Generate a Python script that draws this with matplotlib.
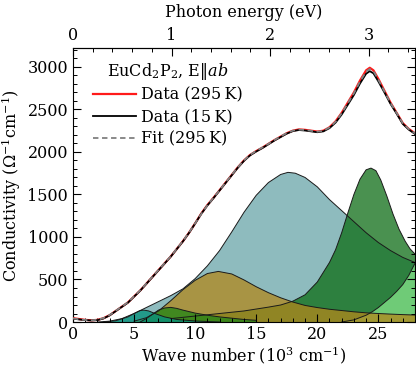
import matplotlib
matplotlib.use("Agg")
import matplotlib.pyplot as plt

plt.rcParams['font.family'] = ['DejaVu Serif']
plt.rcParams['mathtext.fontset'] = 'dejavuserif'

# wave number in 10^3 cm^-1
wn = [0, 0.5, 1, 1.5, 2, 2.5, 3, 3.5, 4, 4.5, 5, 5.5, 6, 6.5, 7, 7.5, 8, 8.5, 9, 9.5,
      10, 10.5, 11, 11.5, 12, 12.5, 13, 13.5, 14, 14.5, 15, 15.5, 16, 16.5, 17, 17.5,
      18, 18.5, 19, 19.5, 20, 20.5, 21, 21.5, 22, 22.5, 23, 23.5, 24, 24.3, 24.6, 25,
      25.5, 26, 26.5, 27, 27.5, 28]
sigma_295 = [45, 35, 25, 20, 25, 45, 80, 130, 180, 230, 300, 370, 450, 530, 610, 690,
             770, 860, 950, 1050, 1160, 1275, 1375, 1460, 1550, 1640, 1730, 1820, 1900,
             1965, 2010, 2050, 2095, 2140, 2180, 2220, 2250, 2265, 2260, 2250, 2240, 2250,
             2290, 2360, 2460, 2580, 2700, 2840, 2960, 2990, 2960, 2860, 2720, 2580, 2460,
             2340, 2270, 2220]
sigma_15 = [40, 30, 22, 18, 22, 42, 78, 128, 178, 228, 298, 368, 448, 528, 608, 688,
            768, 858, 948, 1048, 1158, 1272, 1370, 1456, 1546, 1636, 1726, 1815, 1895,
            1960, 2005, 2045, 2090, 2135, 2175, 2215, 2245, 2258, 2252, 2242, 2232, 2242,
            2280, 2345, 2440, 2555, 2670, 2805, 2920, 2950, 2925, 2830, 2700, 2565, 2450,
            2330, 2262, 2212]
sigma_fit = [42, 32, 24, 20, 26, 46, 82, 132, 182, 232, 302, 372, 452, 532, 612, 692,
             772, 862, 952, 1052, 1160, 1270, 1372, 1460, 1550, 1640, 1732, 1820, 1900,
             1965, 2012, 2052, 2095, 2140, 2182, 2222, 2250, 2262, 2258, 2248, 2238, 2248,
             2288, 2355, 2455, 2572, 2690, 2828, 2945, 2975, 2950, 2850, 2712, 2575, 2458,
             2338, 2268, 2218]

# fit components
blue_x = [2, 3, 4, 5, 6, 7, 8, 9, 10, 11, 12, 13, 14, 15, 16, 17, 17.6, 18.2, 19, 20,
          21, 22, 23, 24, 25, 26, 27, 28]
blue_y = [0, 10, 40, 100, 170, 240, 310, 390, 510, 660, 840, 1060, 1290, 1490, 1640,
          1735, 1760, 1750, 1700, 1590, 1440, 1310, 1180, 1050, 935, 840, 760, 700]
olive_x = [5, 6, 7, 8, 9, 10, 11, 11.9, 13, 14, 15, 16, 17, 18, 19, 20, 21, 22, 23, 24,
           25, 26, 27, 28]
olive_y = [10, 50, 130, 250, 380, 490, 570, 595, 565, 495, 415, 345, 285, 235, 195, 170,
           150, 135, 120, 108, 100, 93, 87, 82]
green_x = [8, 10, 12, 14, 16, 17, 18, 19, 20, 21, 21.5, 22, 22.5, 23, 23.5, 24, 24.4,
           24.8, 25.2, 25.7, 26.2, 26.7, 27.2, 27.6, 28]
green_y = [40, 70, 100, 130, 175, 200, 245, 320, 470, 700, 850, 1050, 1280, 1500, 1680,
           1790, 1810, 1780, 1670, 1480, 1270, 1090, 950, 860, 800]
lgreen_x = [22, 23, 24, 24.5, 25, 25.5, 26, 26.5, 27, 27.5, 28]
lgreen_y = [0, 25, 80, 120, 170, 230, 290, 360, 440, 550, 690]
teal_x = [2.5, 3.5, 4.5, 5, 5.5, 5.8, 6.2, 6.8, 7.5, 8.5, 10, 12]
teal_y = [0, 15, 60, 100, 135, 140, 130, 95, 60, 30, 12, 0]
green2_x = [5.5, 6, 6.5, 7, 7.5, 8, 8.5, 9, 10, 11, 12, 13, 14, 15]
green2_y = [0, 40, 90, 140, 165, 172, 160, 140, 105, 80, 60, 45, 30, 20]

FS = 11.5

fig = plt.figure(figsize=(4.16, 3.70), dpi=100)
ax = fig.add_axes([0.1755, 0.1297, 0.822, 0.740])

def comp(x, y, color, alpha):
    ax.fill_between(x, 0, y, facecolor=color, alpha=alpha, edgecolor='none', zorder=1)
    ax.plot(x, y, color='#1a1a1a', lw=0.7, zorder=1.5)

comp(blue_x, blue_y, '#69a4a9', 0.75)
comp(green_x, green_y, '#0d6c15', 0.75)
comp(lgreen_x, lgreen_y, '#86e58b', 0.75)
comp(olive_x, olive_y, '#b2881b', 0.75)
comp(green2_x, green2_y, '#278618', 0.8)
comp(teal_x, teal_y, '#08927d', 0.8)

ax.plot(wn, sigma_295, color='#ff1a1a', lw=1.6, zorder=3, label='Data (295\u2009K)')
ax.plot(wn, sigma_15, color='black', lw=1.3, zorder=4, label='Data (15\u2009K)')
ax.plot(wn, sigma_fit, color='#808080', lw=1.3, ls=(0, (3, 2)), zorder=5,
        label='Fit (295\u2009K)')

ax.set_xlim(0, 28)
ax.set_ylim(0, 3220)
ax.set_xticks([0, 5, 10, 15, 20, 25])
ax.set_xticks(range(0, 29), minor=True)
ax.set_yticks([0, 500, 1000, 1500, 2000, 2500, 3000])
ax.set_yticks(range(0, 3201, 100), minor=True)
ax.tick_params(which='both', direction='in', right=True, labelsize=FS)
ax.tick_params(which='major', length=6, width=0.8)
ax.tick_params(which='minor', length=3, width=0.7)
ax.tick_params(axis='x', pad=3)
ax.set_xlabel('Wave number (10$^3$ cm$^{-1}$)', fontsize=FS, labelpad=1)
ax.set_ylabel('Conductivity ($\\Omega^{-1}$cm$^{-1}$)', fontsize=FS, labelpad=3)

top = ax.secondary_xaxis('top', functions=(lambda x: x / 8.06554, lambda e: e * 8.06554))
top.set_xticks([0, 1, 2, 3])
top.set_xticks([i * 0.2 for i in range(18)], minor=True)
top.tick_params(which='both', direction='in', labelsize=FS, pad=3)
top.tick_params(which='major', length=6, width=0.8)
top.tick_params(which='minor', length=3, width=0.7)
top.set_xlabel('Photon energy (eV)', fontsize=FS, labelpad=7)

leg = ax.legend(loc='upper left', bbox_to_anchor=(0.02, 1.0), frameon=False,
                title='EuCd$_2$P$_2$, E$\\|$$ab$', fontsize=FS, title_fontsize=FS,
                handlelength=2.7, handletextpad=0.3, labelspacing=0.3,
                borderaxespad=0.4)

fig.savefig('out.png', dpi=100)
